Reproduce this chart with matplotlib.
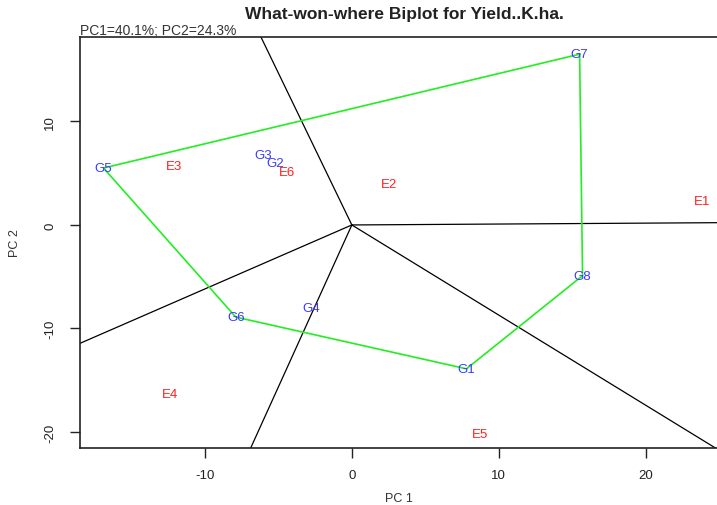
import matplotlib
matplotlib.use("Agg")
import matplotlib.pyplot as plt

plt.rcParams['font.family'] = ['Liberation Sans', 'DejaVu Sans']
plt.rcParams['axes.unicode_minus'] = False

# genotype scores (PC1, PC2)
gen_names = ['G1', 'G2', 'G3', 'G4', 'G5', 'G6', 'G7', 'G8']
gen_pc1 = [7.8, -5.2, -6.0, -2.8, -16.9, -7.9, 15.5, 15.7]
gen_pc2 = [-13.9, 6.0, 6.8, -8.0, 5.5, -8.9, 16.5, -4.9]

# environment scores
env_names = ['E1', 'E2', 'E3', 'E4', 'E5', 'E6']
env_pc1 = [23.8, 2.5, -12.1, -12.4, 8.7, -4.4]
env_pc2 = [2.35, 4.0, 5.7, -16.3, -20.2, 5.1]

# convex hull order (vertex genotypes)
hull = ['G7', 'G8', 'G1', 'G6', 'G5', 'G7']

# sector boundary rays from origin (end points)
ray_x = [-6.2, 24.9, 24.8, -6.9, -18.6]
ray_y = [18.2, 0.22, -21.6, -21.6, -11.5]

fig = plt.figure(figsize=(7.17, 5.06), dpi=100)
ax = fig.add_axes([80/717, 1-449/506, 1-80/717, (449-38)/506])
ax.set_xlim(-18.5, 24.85)
ax.set_ylim(-21.55, 18.16)

for rx, ry in zip(ray_x, ray_y):
    ax.plot([0, rx], [0, ry], color='black', lw=0.9, zorder=1)

hx = [gen_pc1[gen_names.index(g)] for g in hull]
hy = [gen_pc2[gen_names.index(g)] for g in hull]
ax.plot(hx, hy, color='#22ee22', lw=1.2, zorder=2)

for n, x, y in zip(gen_names, gen_pc1, gen_pc2):
    ax.text(x, y, n, color='#3a3aff', fontsize=9.5, ha='center', va='center', zorder=3)
for n, x, y in zip(env_names, env_pc1, env_pc2):
    ax.text(x, y, n, color='#ff2020', fontsize=9.5, ha='center', va='center', zorder=3)

ax.spines['right'].set_visible(False)
for s in ['left', 'bottom', 'top']:
    ax.spines[s].set_linewidth(1.2)
    ax.spines[s].set_color('#222222')

ax.set_xticks([-10, 0, 10, 20])
ax.set_yticks([-20, -10, 0, 10])
ax.tick_params(direction='out', length=7, width=1, labelsize=9.5, colors='#222222')
ax.tick_params(axis='x', pad=8)
ax.tick_params(axis='y', pad=10)
plt.setp(ax.get_yticklabels(), rotation=90, va='center')
ax.set_xlabel('PC 1', fontsize=9, labelpad=8, color='#333333')
ax.set_ylabel('PC 2', fontsize=9, labelpad=17, color='#333333')

fig.text(404/717, 1-15/506, 'What-won-where Biplot for Yield..K.ha.', ha='center', va='center',
         fontsize=12.5, fontweight='bold', color='#222222')
fig.text(80/717, 1-31/506, 'PC1=40.1%; PC2=24.3%', ha='left', va='center',
         fontsize=10, color='#333333')

fig.savefig('out.png', dpi=100)
